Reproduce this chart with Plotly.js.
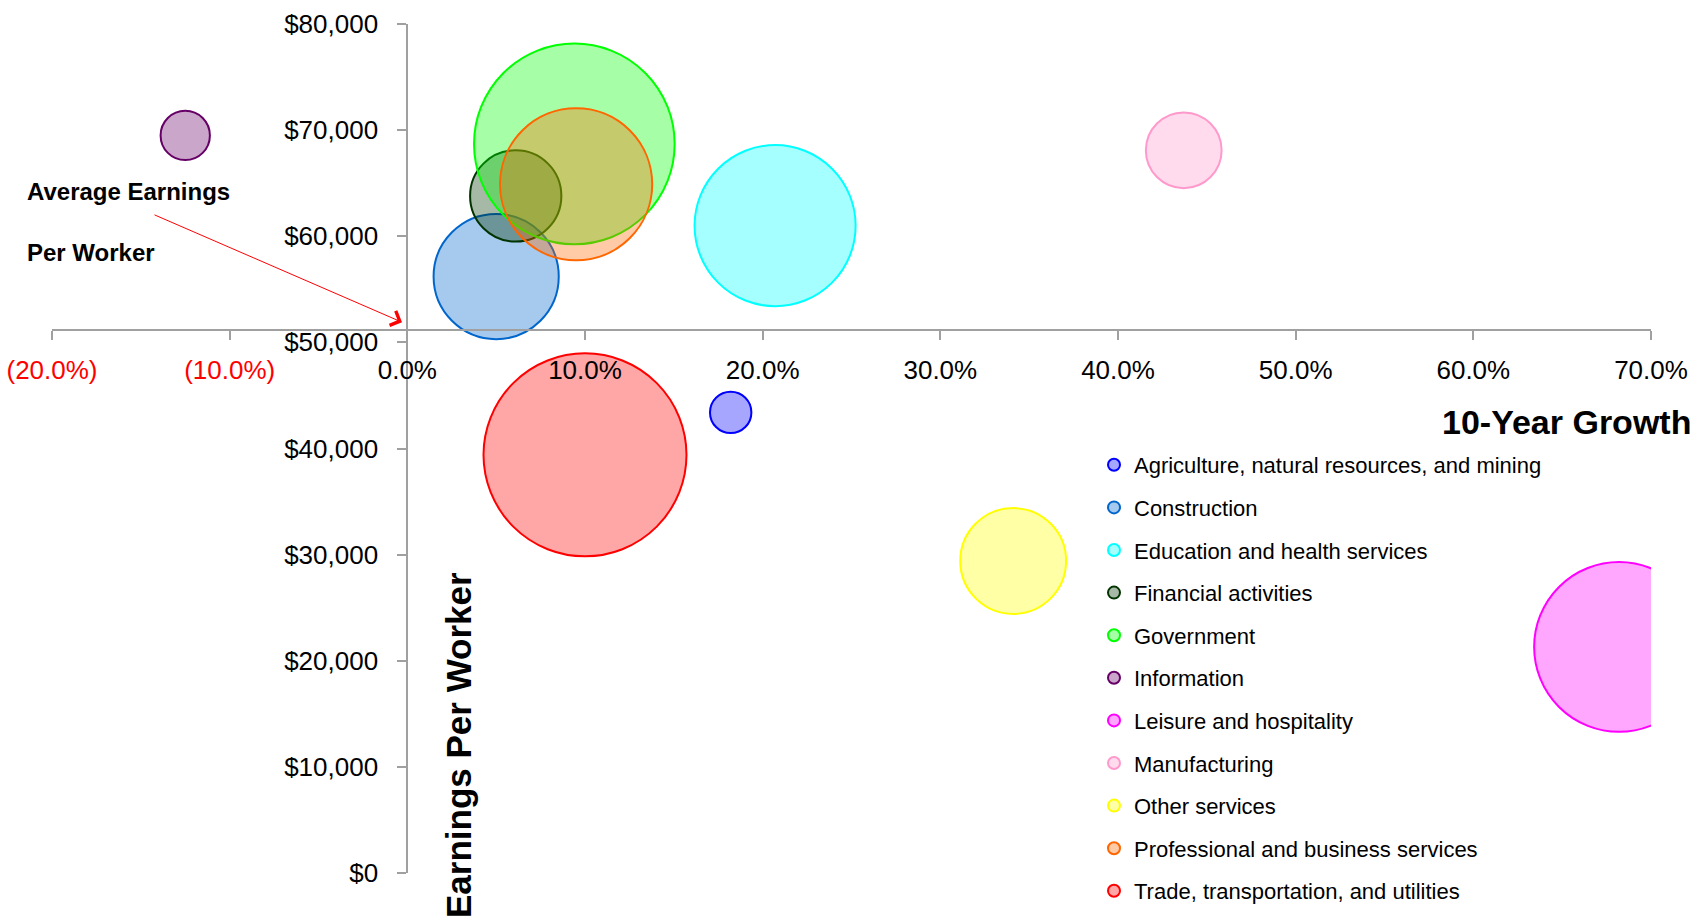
<!DOCTYPE html>
<html>
<head>
<meta charset="utf-8">
<script src="https://cdn.plot.ly/plotly-3.0.1.min.js"></script>
<style>
  html, body { margin: 0; padding: 0; background: #fff; }
  #chart { width: 1707px; height: 921px; }
</style>
</head>
<body>
<div id="chart"></div>
<script>
// ---- Data ----
const categories = [
  "Agriculture, natural resources, and mining",
  "Construction",
  "Education and health services",
  "Financial activities",
  "Government",
  "Information",
  "Leisure and hospitality",
  "Manufacturing",
  "Other services",
  "Professional and business services",
  "Trade, transportation, and utilities"
];
// 10-year growth (fraction)
const growth = [0.182, 0.050, 0.207, 0.061, 0.094, -0.125, 0.682, 0.437, 0.341, 0.095, 0.100];
// Earnings per worker ($)
const earnings = [43400, 56200, 61000, 63800, 68700, 69500, 21300, 68100, 29400, 64900, 39400];
// Bubble size (relative employment)
const employment = [430, 3930, 6510, 2090, 10100, 610, 7230, 1440, 2810, 5810, 10340];
// Average earnings per worker (where the horizontal axis crosses)
const avgEarnings = 51200;
// Axis ticks
const xTickVals = [-0.2, -0.1, 0, 0.1, 0.2, 0.3, 0.4, 0.5, 0.6, 0.7];
const yTickVals = [0, 10000, 20000, 30000, 40000, 50000, 60000, 70000, 80000];

// ---- Styles ----
const lineColors = ["#0000ff", "#0066cc", "#00ffff", "#003300", "#00ff00", "#660066",
                    "#ff00ff", "#ff99cc", "#ffff00", "#ff6600", "#ff0000"];
function fillOf(hex) {
  const r = parseInt(hex.slice(1, 3), 16), g = parseInt(hex.slice(3, 5), 16), b = parseInt(hex.slice(5, 7), 16);
  return `rgba(${r},${g},${b},0.35)`;
}
const FONT = '"Liberation Sans", Arial, sans-serif';
const xRange = [-0.2, 0.7];
const yRange = [0, 80000];
const maxDiameter = 203;
const sizeref = 2 * Math.max(...employment) / (maxDiameter * maxDiameter);

function fmtPct(v) {
  const s = (Math.abs(v) * 100).toFixed(1) + "%";
  return v < 0 ? `<span style="color:#ff0000">(${s})</span>` : s;
}

const traces = categories.map((name, i) => ({
  type: "scatter",
  mode: "markers",
  name: name,
  legendgroup: "g" + i,
  x: [growth[i]],
  y: [earnings[i]],
  marker: {
    size: [employment[i]],
    sizemode: "area",
    sizeref: sizeref,
    opacity: 1,
    color: fillOf(lineColors[i]),
    line: { color: lineColors[i], width: 2 }
  },
  hovertemplate: name + "<br>%{x:.1%}<br>$%{y:,}<extra></extra>"
}));

const W = 1707, H = 921;
const m = { l: 52, r: 56, t: 24, b: 48, autoexpand: false };
const pw = W - m.l - m.r, ph = H - m.t - m.b;
const px = v => (v - m.l) / pw;          // pixel -> paper x
const py = v => (H - m.b - v) / ph;      // pixel -> paper y

const layout = {
  width: W, height: H,
  margin: m,
  paper_bgcolor: "#fff",
  plot_bgcolor: "#fff",
  font: { family: FONT, color: "#000", size: 22 },
  showlegend: true,
  legend: {
    x: px(1094), xanchor: "left",
    y: py(444), yanchor: "top",
    font: { family: FONT, size: 22, color: "#000" },
    itemsizing: "constant",
    tracegroupgap: 11,
    bgcolor: "rgba(0,0,0,0)"
  },
  xaxis: {
    range: xRange,
    anchor: "free",
    position: (avgEarnings - yRange[0]) / (yRange[1] - yRange[0]),
    showline: true, linecolor: "#a0a0a0", linewidth: 2,
    ticks: "outside", ticklen: 9, tickcolor: "#a0a0a0", tickwidth: 2,
    tickvals: xTickVals,
    ticktext: xTickVals.map(fmtPct),
    tickfont: { family: FONT, size: 26, color: "#000" },
    ticklabelstandoff: 8,
    ticklabeloverflow: "allow",
    showgrid: false, zeroline: false, automargin: false
  },
  yaxis: {
    range: yRange,
    anchor: "free",
    position: (0 - xRange[0]) / (xRange[1] - xRange[0]),
    showline: true, linecolor: "#a0a0a0", linewidth: 2,
    ticks: "outside", ticklen: 9, tickcolor: "#a0a0a0", tickwidth: 2,
    tickvals: yTickVals,
    tickformat: "$,.0f",
    tickfont: { family: FONT, size: 26, color: "#000" },
    ticklabelstandoff: 14,
    ticklabeloverflow: "allow",
    showgrid: false, zeroline: false, automargin: false
  },
  annotations: [
    {
      xref: "paper", yref: "paper", x: px(1693), y: py(422),
      xanchor: "right", yanchor: "middle", showarrow: false,
      text: "<b>10-Year Growth</b>",
      font: { family: FONT, size: 34, color: "#000" }
    },
    {
      xref: "paper", yref: "paper", x: px(458), y: py(745),
      xanchor: "center", yanchor: "middle", showarrow: false, textangle: -90,
      text: "<b>Earnings Per Worker</b>",
      font: { family: FONT, size: 35, color: "#000" }
    },
    {
      xref: "paper", yref: "paper", x: px(25), y: py(192),
      xanchor: "left", yanchor: "middle", showarrow: false,
      text: "<b>Average Earnings</b>",
      font: { family: FONT, size: 24, color: "#000" }
    },
    {
      xref: "paper", yref: "paper", x: px(25), y: py(252),
      xanchor: "left", yanchor: "middle", showarrow: false,
      text: "<b>Per Worker</b>",
      font: { family: FONT, size: 24, color: "#000" }
    },
    {
      xref: "x", yref: "y", x: -0.003, y: avgEarnings + 700,
      axref: "pixel", ayref: "pixel", ax: -249, ay: -108,
      text: "", showarrow: true, arrowhead: 4, arrowsize: 3, arrowwidth: 1,
      arrowcolor: "#ff0000"
    }
  ]
};

Plotly.newPlot("chart", traces, layout, { displayModeBar: false, staticPlot: true });
</script>
</body>
</html>
